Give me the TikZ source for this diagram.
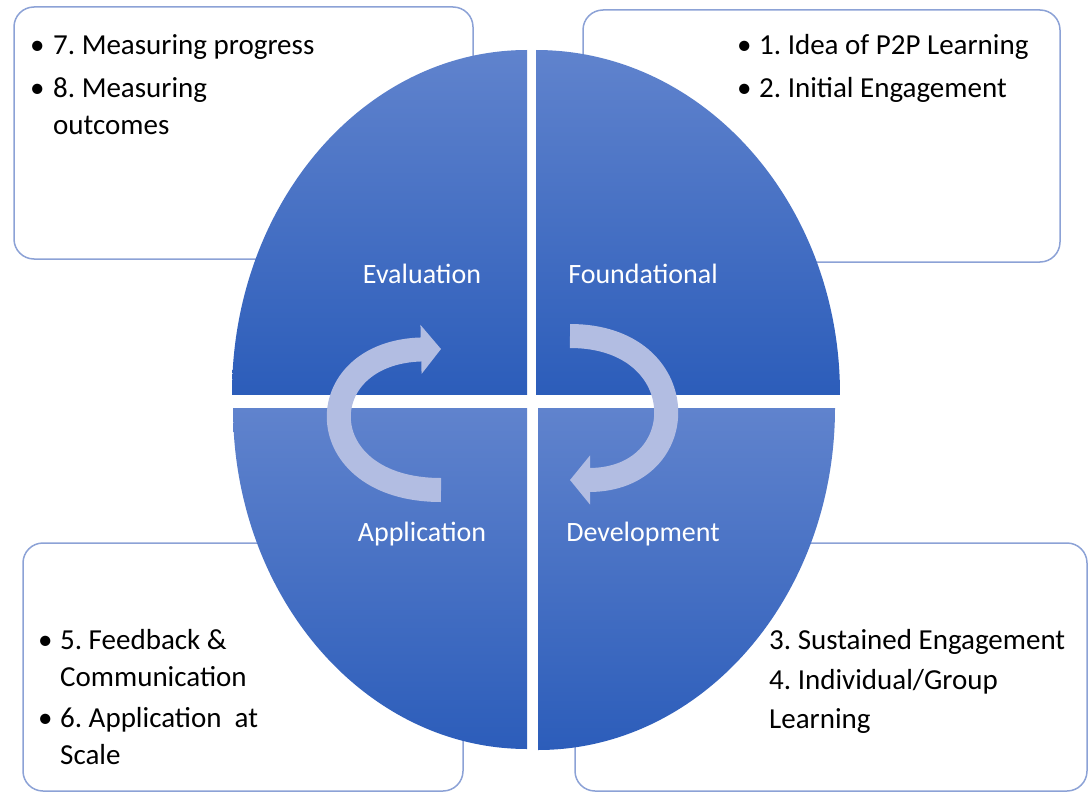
\documentclass[tikz,border=0pt]{standalone}
\usepackage{fontspec}
\setmainfont{Carlito}
\usetikzlibrary{arrows.meta}
\usepackage{array}
\frenchspacing

\definecolor{quadtop}{RGB}{96,131,205}
\definecolor{quadbottom}{RGB}{44,93,186}
\definecolor{boxline}{RGB}{140,162,214}
\definecolor{turncolor}{RGB}{178,189,226}

\begin{document}
\begin{tikzpicture}
	[x=1pt,y=-1pt]
	\tikzstyle{infobox}=[draw=boxline, line width=1.5pt, fill=white, rounded corners=20pt];
	\tikzstyle{quarter}=[top color=quadtop, bottom color=quadbottom];
	\tikzstyle{phase}=[text=white, font=\fontsize{28}{34}\selectfont, anchor=base, inner sep=0pt];
	\tikzstyle{items}=[anchor=base west, inner sep=0pt, font=\fontsize{29}{37}\selectfont];
	\tikzstyle{turn}=[line width=24pt, draw=turncolor, -{Triangle[length=20pt,width=48pt]}];

	\useasboundingbox (0,0) rectangle (1090,792);

	% boxes behind the ellipse
	\draw[infobox] (14,7) rectangle (473,259);
	\draw[infobox] (583,10) rectangle (1060,262);
	\draw[infobox] (23,543) rectangle (463,791);
	\draw[infobox] (575,543) rectangle (1087,791);

	% four quarters
	\begin{scope}
		\clip (527,394) ellipse [x radius=295pt, y radius=344pt];
		\shade[quarter] (232,50) rectangle (527,394);
	\end{scope}
	\begin{scope}
		\clip (536,394) ellipse [x radius=304pt, y radius=344pt];
		\shade[quarter] (536,50) rectangle (840,394);
	\end{scope}
	\begin{scope}
		\clip (527,408) ellipse [x radius=294pt, y radius=341pt];
		\shade[quarter] (233,408) rectangle (527,749);
	\end{scope}
	\begin{scope}
		\clip (538,408) ellipse [x radius=297pt, y radius=342pt];
		\shade[quarter] (538,408) rectangle (835,750);
	\end{scope}

	% turning arrows
	\coordinate (ltail) at (441,490);
	\coordinate (lhead) at (441,349);
	\coordinate (rtail) at (570,336);
	\coordinate (rhead) at (570,480);
	\draw[turn] (ltail) .. controls (308,490) and (308,352) .. (lhead);
	\draw[turn] (rtail) .. controls (695,336) and (695,480) .. (rhead);

	\node[phase] (E) at (422,283) {Evaluation};
	\node[phase] (F) at (643,283) {Foundational};
	\node[phase] (A) at (422,541) {Application};
	\node[phase] (D) at (643,541) {Development};

	\node[items] (E1) at (30,55) {\begin{tabular}[t]{@{}p{23pt}@{}l@{}}
		\textbullet & 7. Measuring progress\\[6pt]
		\textbullet & 8. Measuring\\
		& outcomes
	\end{tabular}};
	\node[items] (F1) at (737,55) {\begin{tabular}[t]{@{}p{22pt}@{}l@{}}
		\textbullet & 1. Idea of P2P Learning\\[6pt]
		\textbullet & 2. Initial Engagement
	\end{tabular}};
	\node[items] (A1) at (38,649) {\begin{tabular}[t]{@{}p{22pt}@{}l@{}}
		\textbullet & 5. Feedback \&\\
		& Communication\\[4pt]
		\textbullet & 6. Application\ \ at\\
		& Scale
	\end{tabular}};
	\node[items] (D1) at (769,649) {\begin{tabular}[t]{@{}l@{}}
		3. Sustained Engagement\\[3pt]
		4. Individual/Group\\[2pt]
		Learning
	\end{tabular}};

\end{tikzpicture}
\end{document}
